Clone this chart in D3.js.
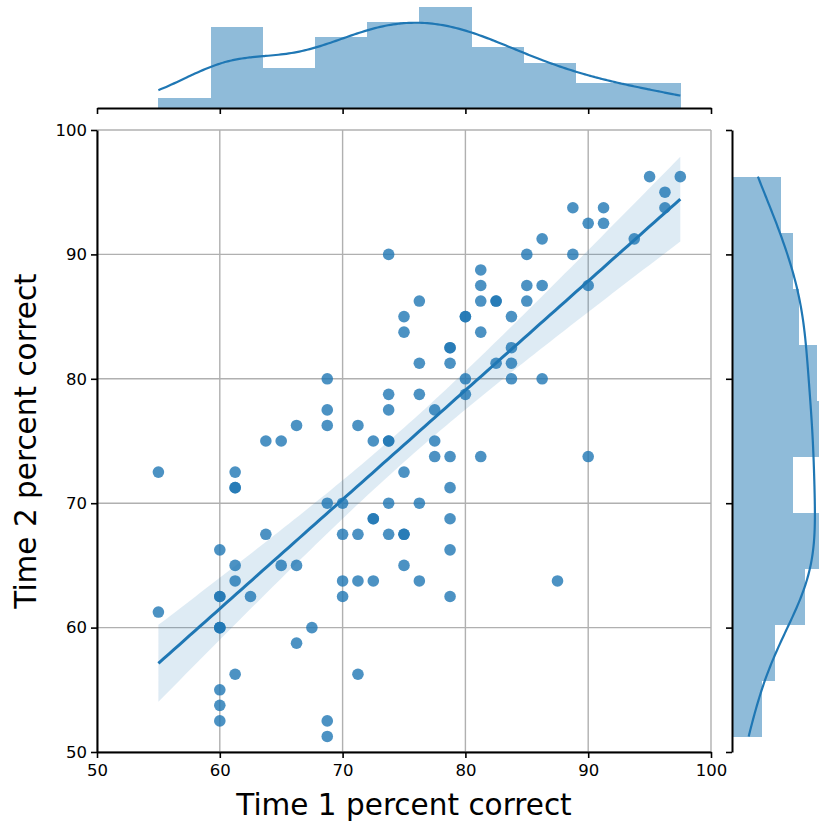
<!DOCTYPE html>
<html>
<head>
<meta charset="utf-8">
<script src="https://cdn.jsdelivr.net/npm/d3@7"></script>
<style>
  body { margin: 0; background: #fff; }
  svg { font-family: "DejaVu Sans", sans-serif; }
</style>
</head>
<body>
<div id="chart"></div>
<script>
// paired scores, one entry per student (percent correct at time 1 / time 2)
const time1 = [
  55, 55,
  60, 60, 60, 60, 60, 60, 60, 60, 60,
  61.25, 61.25, 61.25, 61.25, 61.25, 61.25,
  62.5,
  63.75, 63.75,
  65, 65,
  66.25, 66.25, 66.25,
  67.5,
  68.75, 68.75, 68.75, 68.75, 68.75, 68.75,
  70, 70, 70, 70,
  71.25, 71.25, 71.25, 71.25,
  72.5, 72.5, 72.5, 72.5,
  73.75, 73.75, 73.75, 73.75, 73.75, 73.75, 73.75,
  75, 75, 75, 75, 75, 75,
  76.25, 76.25, 76.25, 76.25, 76.25,
  77.5, 77.5, 77.5,
  78.75, 78.75, 78.75, 78.75, 78.75, 78.75, 78.75, 78.75,
  80, 80, 80, 80,
  81.25, 81.25, 81.25, 81.25, 81.25,
  82.5, 82.5, 82.5,
  83.75, 83.75, 83.75, 83.75,
  85, 85, 85,
  86.25, 86.25, 86.25,
  87.5,
  88.75, 88.75,
  90, 90, 90,
  91.25, 91.25,
  93.75,
  95,
  96.25, 96.25,
  97.5
];
const time2 = [
  72.5, 61.25,
  66.25, 62.5, 62.5, 60, 60, 60, 55, 53.75, 52.5,
  72.5, 71.25, 71.25, 65, 63.75, 56.25,
  62.5,
  75, 67.5,
  75, 65,
  76.25, 65, 58.75,
  60,
  80, 77.5, 76.25, 70, 52.5, 51.25,
  70, 67.5, 63.75, 62.5,
  76.25, 67.5, 63.75, 56.25,
  75, 68.75, 68.75, 63.75,
  90, 78.75, 77.5, 75, 75, 70, 67.5,
  85, 83.75, 72.5, 67.5, 67.5, 65,
  86.25, 81.25, 78.75, 70, 63.75,
  77.5, 75, 73.75,
  82.5, 82.5, 81.25, 73.75, 71.25, 68.75, 66.25, 62.5,
  85, 85, 80, 78.75,
  88.75, 87.5, 86.25, 83.75, 73.75,
  86.25, 86.25, 81.25,
  85, 82.5, 81.25, 80,
  90, 87.5, 86.25,
  91.25, 87.5, 80,
  63.75,
  93.75, 90,
  92.5, 87.5, 73.75,
  93.75, 92.5,
  91.25,
  96.25,
  95, 93.75,
  96.25
];
const tickValues = [50, 60, 70, 80, 90, 100];
const binCount = 10;
const xLabel = 'Time 1 percent correct';
const yLabel = 'Time 2 percent correct';

const width = 819;
const height = 823;
const blue = '#1f77b4';

const x = d3.scaleLinear().domain([50, 100]).range([97, 711]);
const y = d3.scaleLinear().domain([50, 100]).range([752, 130]);
const topCount = d3.scaleLinear().domain([0, 21]).range([108, 2]);
const rightCount = d3.scaleLinear().domain([0, 16.8]).range([732, 834]);

const svg = d3.select('#chart').append('svg')
  .attr('width', width)
  .attr('height', height);

// grid
const grid = svg.append('g').attr('stroke', '#b0b0b0').attr('stroke-width', 1.4);
grid.selectAll('.gx').data(tickValues).join('line')
  .attr('x1', d => x(d)).attr('x2', d => x(d))
  .attr('y1', y(50)).attr('y2', y(100));
grid.selectAll('.gy').data(tickValues).join('line')
  .attr('y1', d => y(d)).attr('y2', d => y(d))
  .attr('x1', x(50)).attr('x2', x(100));

// marginal histograms
function makeBins(values) {
  const [lo, hi] = d3.extent(values);
  const step = (hi - lo) / binCount;
  const edges = d3.range(1, binCount).map(i => lo + i * step);
  return { bins: d3.bin().domain([lo, hi]).thresholds(edges)(values), step, lo, hi };
}

function kde(values, lo, hi, step) {
  const n = values.length;
  const bw = d3.deviation(values) * Math.pow(n, -0.2);
  const pts = d3.range(0, 201).map(i => lo + (hi - lo) * i / 200);
  return pts.map(p => {
    const dens = d3.mean(values, v => Math.exp(-0.5 * ((p - v) / bw) ** 2)) / (bw * Math.sqrt(2 * Math.PI));
    return [p, dens * n * step];
  });
}

const hx = makeBins(time1);
svg.append('g').attr('shape-rendering', 'crispEdges')
  .selectAll('rect').data(hx.bins).join('rect')
  .attr('x', d => x(d.x0))
  .attr('width', d => x(d.x1) - x(d.x0) + 0.5)
  .attr('y', d => topCount(d.length))
  .attr('height', d => topCount(0) - topCount(d.length))
  .attr('fill', '#8fbbd9');

svg.append('path')
  .datum(kde(time1, hx.lo, hx.hi, hx.step))
  .attr('fill', 'none').attr('stroke', blue).attr('stroke-width', 2.2)
  .attr('d', d3.line().x(d => x(d[0])).y(d => topCount(d[1])).curve(d3.curveBasis));

const hy = makeBins(time2);
svg.append('g').attr('shape-rendering', 'crispEdges')
  .selectAll('rect').data(hy.bins).join('rect')
  .attr('y', d => y(d.x1))
  .attr('height', d => y(d.x0) - y(d.x1) + 0.5)
  .attr('x', rightCount(0))
  .attr('width', d => rightCount(d.length) - rightCount(0))
  .attr('fill', '#8fbbd9');

svg.append('path')
  .datum(kde(time2, hy.lo, hy.hi, hy.step))
  .attr('fill', 'none').attr('stroke', blue).attr('stroke-width', 2.2)
  .attr('d', d3.line().y(d => y(d[0])).x(d => rightCount(d[1])).curve(d3.curveBasis));

// scatter
const pairs = time1.map((t, i) => [t, time2[i]]);
svg.append('g').selectAll('circle').data(pairs).join('circle')
  .attr('cx', d => x(d[0]))
  .attr('cy', d => y(d[1]))
  .attr('r', 5.8)
  .attr('fill', blue)
  .attr('fill-opacity', 0.8);

// regression line with 95% band
const n = pairs.length;
const mx = d3.mean(time1), my = d3.mean(time2);
const sxx = d3.sum(time1, v => (v - mx) ** 2);
const sxy = d3.sum(pairs, d => (d[0] - mx) * (d[1] - my));
const slope = sxy / sxx;
const intercept = my - slope * mx;
const s = Math.sqrt(d3.sum(pairs, d => (d[1] - (intercept + slope * d[0])) ** 2) / (n - 2));
const tval = 1.983;
const [xmin, xmax] = d3.extent(time1);
const fit = d3.range(0, 101).map(i => {
  const xv = xmin + (xmax - xmin) * i / 100;
  const yv = intercept + slope * xv;
  const half = tval * s * Math.sqrt(1 / n + (xv - mx) ** 2 / sxx);
  return { xv, yv, lo: yv - half, hi: yv + half };
});

svg.append('path').datum(fit)
  .attr('fill', blue).attr('fill-opacity', 0.15)
  .attr('d', d3.area().x(d => x(d.xv)).y0(d => y(d.lo)).y1(d => y(d.hi)));

svg.append('path').datum(fit)
  .attr('fill', 'none').attr('stroke', blue).attr('stroke-width', 3)
  .attr('d', d3.line().x(d => x(d.xv)).y(d => y(d.yv)));

// axes
function styleAxis(g) {
  g.select('.domain').attr('stroke', '#000').attr('stroke-width', 2);
  g.selectAll('.tick line').attr('stroke', '#000').attr('stroke-width', 1.6);
  g.selectAll('.tick text').attr('fill', '#000').style('font-size', '16.5px')
    .style('font-family', '"DejaVu Sans", sans-serif');
}

svg.append('g')
  .attr('transform', `translate(0, ${y(50)})`)
  .call(d3.axisBottom(x).tickValues(tickValues).tickSize(6).tickSizeOuter(0).tickPadding(6))
  .call(styleAxis);

svg.append('g')
  .attr('transform', `translate(${x(50)}, 0)`)
  .call(d3.axisLeft(y).tickValues(tickValues).tickSize(6).tickSizeOuter(0).tickPadding(4))
  .call(styleAxis);

svg.append('g')
  .attr('transform', `translate(0, ${topCount(0)})`)
  .call(d3.axisBottom(x).tickValues(tickValues).tickSize(6).tickSizeOuter(0).tickFormat(''))
  .call(styleAxis);

svg.append('g')
  .attr('transform', `translate(${rightCount(0)}, 0)`)
  .call(d3.axisLeft(y).tickValues(tickValues).tickSize(6).tickSizeOuter(0).tickFormat(''))
  .call(styleAxis);

// labels
svg.append('text')
  .attr('x', (x(50) + x(100)) / 2)
  .attr('y', 815)
  .attr('text-anchor', 'middle')
  .style('font-size', '29.5px')
  .text(xLabel);

svg.append('text')
  .attr('transform', `translate(36, ${(y(50) + y(100)) / 2}) rotate(-90)`)
  .attr('text-anchor', 'middle')
  .style('font-size', '29.5px')
  .text(yLabel);
</script>
</body>
</html>
